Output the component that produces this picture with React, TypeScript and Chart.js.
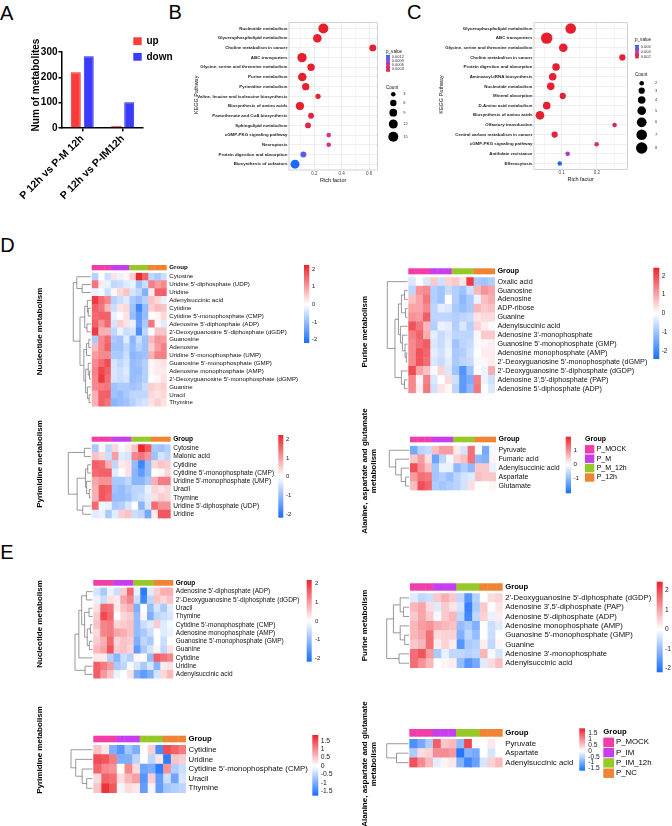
import React, { useEffect, useRef } from 'react';
import { Chart, registerables } from 'chart.js';

Chart.register(...registerables);

const FONT = '"Liberation Sans", Arial, Helvetica, sans-serif';
Chart.defaults.font.family = FONT;
Chart.defaults.color = '#000';

/* ---------------- A: number of differential metabolites ---------------- */
const aComparisons = ['P 12h vs P-M 12h', 'P 12h vs P-IM12h'];
const aSeriesNames = ['up', 'down'];
const aUp = [220, 8];
const aDown = [283, 102];
const aYTicks = [0, 100, 200, 300];

/* ---------------- B: KEGG enrichment (P 12h vs P-M 12h) ---------------- */
const bPathways = [
  'Nucleotide metabolism',
  'Glycerophospholipid metabolism',
  'Choline metabolism in cancer',
  'ABC transporters',
  'Glycine, serine and threonine metabolism',
  'Purine metabolism',
  'Pyrimidine metabolism',
  'Valine, leucine and isoleucine biosynthesis',
  'Biosynthesis of amino acids',
  'Pantothenate and CoA biosynthesis',
  'Sphingolipid metabolism',
  'cGMP-PKG signaling pathway',
  'Necroptosis',
  'Protein digestion and absorption',
  'Biosynthesis of cofactors',
];
const bRichFactor = [0.266, 0.222, 0.627, 0.11, 0.176, 0.112, 0.137, 0.227, 0.095, 0.176, 0.154, 0.305, 0.305, 0.12, 0.059];
const bCount = [15, 11, 7, 13, 8, 11, 8, 4, 10, 5, 5, 3, 3, 5, 12];
const bPValue = [0.00013, 0.00015, 0.00016, 0.00014, 0.00016, 0.00015, 0.00017, 0.0002, 0.00014, 0.00022, 0.00028, 0.0006, 0.0006, 0.00115, 0.00135];
const bPRange = [0.00013, 0.00135];
const bPTicks = [0.0012, 0.0009, 0.0006, 0.0003];
const bCountTicks = [3, 6, 9, 12, 15];
const bRichGrid = [0.1, 0.2, 0.3, 0.4, 0.5, 0.6];
const bRichLabels = [0.2, 0.4, 0.6];

/* ---------------- C: KEGG enrichment (P 12h vs P-IM 12h) ---------------- */
const cPathways = [
  'Glycerophospholipid metabolism',
  'ABC transporters',
  'Glycine, serine and threonine metabolism',
  'Choline metabolism in cancer',
  'Protein digestion and absorption',
  'Aminoacyl-tRNA biosynthesis',
  'Nucleotide metabolism',
  'Mineral absorption',
  'D-Amino acid metabolism',
  'Biosynthesis of amino acids',
  'Olfactory transduction',
  'Central carbon metabolism in cancer',
  'cGMP-PKG signaling pathway',
  'Antifolate resistance',
  'Efferocytosis',
];
const cRichFactor = [0.1255, 0.0575, 0.1045, 0.272, 0.084, 0.0745, 0.069, 0.103, 0.0575, 0.0385, 0.25, 0.08, 0.199, 0.117, 0.0945];
const cCount = [7, 8, 5, 3, 4, 4, 4, 3, 4, 5, 2, 3, 2, 2, 2];
const cPValue = [0.0015, 0.0014, 0.0016, 0.0017, 0.0016, 0.0016, 0.0016, 0.0017, 0.0016, 0.0015, 0.0022, 0.0018, 0.0028, 0.0045, 0.0068];
const cPRange = [0.0014, 0.0068];
const cPTicks = [0.006, 0.004, 0.002];
const cCountTicks = [2, 3, 4, 5, 6, 7, 8];
const cRichGrid = [0.05, 0.1, 0.15, 0.2, 0.25];
const cRichLabels = [0.1, 0.2];

/* ---------------- D / E: heatmaps ---------------- */
const groupNamesD = ['P_MOCK', 'P_M', 'P_M_12h', 'P_12h'];
const groupNamesE = ['P_MOCK', 'P_IM', 'P_IM_12h', 'P_NC'];
const columnGroup = [0, 0, 0, 1, 1, 1, 2, 2, 2, 3, 3, 3];

const dNucRows = [
  'Cytosine', "Uridine 5'-diphosphate (UDP)", 'Uridine', 'Adenylsuccinic acid', 'Cytidine',
  "Cytidine 5'-monophosphate (CMP)", "Adenosine 5'-diphosphate (ADP)", "2'-Deoxyguanosine 5'-diphosphate (dGDP)",
  'Guanosine', 'Adenosine', "Uridine 5'-monophosphate (UMP)", "Guanosine 5'-monophosphate (GMP)",
  'Adenosine monophosphate (AMP)', "2'-Deoxyguanosine 5'-monophosphate (dGMP)", 'Guanine', 'Uracil', 'Thymine',
];
const dNucValues = [
  [-0.7, 0.0, -0.5, 0.3, -0.2, 0.1, 0.5, 2.2, 1.6, -0.6, -0.8, -0.5],
  [1.4, 0.2, -0.2, -0.6, -0.5, -0.3, -0.2, -0.9, -0.5, 1.3, 1.0, 1.2],
  [-0.2, -0.1, -0.5, 0.1, 0.4, 0.6, -0.4, -0.6, -1.2, 0.2, 1.6, 1.6],
  [2.0, 1.5, 1.2, -0.7, -0.5, -0.3, -0.8, -1.0, -0.7, 0.6, 0.4, -0.2],
  [1.6, 1.4, 0.7, -0.5, 0.3, 0.4, -0.9, -1.8, -1.0, 0.5, 0.7, 0.6],
  [1.5, 1.6, 1.6, -0.2, 0.0, 0.3, -1.0, -1.5, -1.0, 0.0, 0.1, 0.4],
  [1.6, 1.1, 1.5, -0.4, 0.5, 0.3, -0.2, -1.4, -0.8, 1.4, 0.1, -0.3],
  [2.0, 0.8, 0.8, -0.6, -0.2, -0.5, -0.4, -1.7, -0.6, 0.0, 0.6, 0.6],
  [-0.8, 1.2, 1.5, -0.8, -0.9, -0.3, -1.1, -0.5, -0.9, 0.7, 1.1, 1.0],
  [0.7, 1.2, 1.6, -0.9, -0.9, -0.6, -1.0, -0.7, -0.9, 0.5, 1.0, 1.3],
  [1.0, 1.2, 1.2, -0.8, -0.8, -0.5, -1.1, -1.0, -0.9, 0.8, 1.3, 1.3],
  [1.2, 1.5, 1.8, -0.4, -0.6, -0.4, -1.0, -0.9, -0.7, 0.1, 0.2, 0.3],
  [1.3, 1.9, 1.6, -0.4, -0.5, -0.3, -1.0, -1.0, -0.7, 0.1, 0.2, 0.2],
  [1.2, 2.0, 1.5, -0.4, -0.5, -0.4, -1.0, -0.9, -0.7, 0.0, 0.1, 0.3],
  [1.2, 1.3, 1.4, -0.9, -0.8, -0.8, -0.9, -0.8, -0.5, 0.5, 0.4, 0.5],
  [0.8, 1.6, 1.6, -0.9, -1.0, -0.8, -0.6, -0.6, -0.6, 0.4, 0.3, 0.4],
  [0.8, 1.6, 1.4, -1.1, -1.0, -0.9, -0.7, -0.5, -0.4, 0.3, 0.5, 0.3],
];
// merge tree: [height, left, right]; leaves are row indices
const dNucTree = [1, [0.8, 0, [0.5, 1, 2]], [0.62, [0.35, [0.2, 3, [0.15, 4, 5]], [0.22, 6, 7]], [0.4, [0.25, [0.12, 8, 9], 10], [0.3, [0.15, 11, [0.08, 12, 13]], [0.2, 14, [0.1, 15, 16]]]]]];

const dPurRows = [
  'Oxalic acid', 'Guanosine', 'Adenosine', 'ADP-ribose', 'Guanine', 'Adenylsuccinic acid',
  "Adenosine 3'-monophosphate", "Guanosine 5'-monophosphate (GMP)", 'Adenosine monophosphate (AMP)',
  "2'-Deoxyguanosine 5'-monophosphate (dGMP)", "2'-Deoxyguanosine 5'-diphosphate (dGDP)",
  "Adenosine 3',5'-diphosphate (PAP)", "Adenosine 5'-diphosphate (ADP)",
];
const dPurValues = [
  [-0.4, 0.0, -0.4, 0.6, -0.5, 0.5, 0.6, 0.3, 2.2, -0.9, -1.0, -0.8],
  [-0.7, 1.2, 1.3, -0.8, -1.0, -0.6, -0.8, -1.0, -0.5, 0.8, 1.2, 1.0],
  [0.7, 1.0, 1.5, -0.8, -1.0, 0.0, -0.8, -1.2, -0.9, -0.2, 0.7, 0.9],
  [1.0, 1.0, 1.3, -0.7, -0.3, -0.4, -0.9, -1.1, -0.9, 0.8, 0.6, 0.7],
  [1.2, 1.1, 1.8, -0.7, -0.7, -0.7, -0.8, -0.7, -0.6, 0.3, 0.4, 0.4],
  [1.9, 1.5, 0.8, -0.8, -0.2, -0.3, -0.8, -0.4, -0.8, 0.5, 0.2, -0.1],
  [1.4, 1.7, 0.9, -0.3, -0.6, -0.4, -0.7, -0.7, -0.7, 0.1, 0.6, 0.6],
  [1.3, 1.6, 1.8, -0.4, -0.6, -0.3, -1.0, -0.7, -0.6, -0.1, 0.1, 0.2],
  [1.3, 1.9, 1.7, -0.3, -0.5, -0.2, -0.9, -0.8, -0.5, 0.0, 0.2, 0.2],
  [1.3, 1.9, 1.6, -0.4, -0.6, -0.3, -0.9, -0.7, -0.6, -0.1, 0.1, 0.2],
  [2.0, 1.0, 0.7, -0.1, 0.5, -0.4, -1.0, -1.8, -1.0, 0.0, -0.2, 0.9],
  [1.3, 0.1, 1.4, -0.4, 0.0, 0.4, -0.5, -1.7, -1.4, 1.4, -0.2, -0.5],
  [1.3, 0.2, 1.5, -0.5, 0.3, 0.1, -0.7, -1.7, -1.2, 1.5, 0.0, -0.4],
];
const dPurTree = [1, 0, [0.62, [0.45, [0.3, [0.15, 1, 2], [0.1, 3, 4]], [0.35, 5, [0.25, 6, [0.12, 7, [0.06, 8, 9]]]]], [0.3, 10, [0.15, 11, 12]]]];

const dPyrRows = [
  'Cytosine', 'Malonic acid', 'Cytidine', "Cytidine 5'-monophosphate (CMP)", "Uridine 5'-monophosphate (UMP)",
  'Uracil', 'Thymine', "Uridine 5'-diphosphate (UDP)", 'Uridine',
];
const dPyrValues = [
  [-0.8, 0.1, -0.6, 0.4, -0.1, 0.2, 0.6, 2.2, 1.7, -0.8, -0.9, -0.7],
  [0.6, 0.4, -0.5, 1.0, -0.3, -0.4, 1.2, 1.4, 1.1, -0.9, -0.4, -0.6],
  [1.6, 1.5, 0.8, -0.6, 0.2, 0.3, -1.0, -1.8, -1.0, 0.4, 0.6, 0.5],
  [1.5, 1.6, 1.6, -0.3, 0.0, 0.3, -1.1, -1.5, -1.0, 0.0, 0.1, 0.4],
  [0.9, 1.1, 1.1, -0.8, -0.8, -0.6, -1.1, -1.1, -0.8, 0.8, 1.3, 1.3],
  [0.8, 1.7, 1.6, -0.9, -1.0, -0.8, -0.6, -0.6, -0.2, 0.4, 0.3, 0.4],
  [0.8, 1.7, 1.5, -1.0, -1.0, -0.9, -0.6, -0.5, -0.3, 0.3, 0.5, 0.4],
  [1.5, -0.1, -0.2, -0.8, -0.7, -0.4, 0.0, -1.1, -0.4, 1.5, 1.1, 1.1],
  [-0.3, -0.2, -0.8, -0.3, 0.5, 0.6, -0.5, -0.6, -1.3, 0.2, 1.7, 1.7],
];
const dPyrTree = [1, [0.29, 0, 1], [0.61, [0.24, [0.14, 2, 3], [0.19, 4, [0.07, 5, 6]]], [0.36, 7, 8]]];

const dAlaRows = ['Pyruvate', 'Fumaric acid', 'Adenylsuccinic acid', 'Aspartate', 'Glutamate'];
const dAlaValues = [
  [-1.2, -0.6, -0.5, 0.6, 0.9, 0.9, 0.2, -0.4, 1.3, 0.0, -1.2, -0.1],
  [0.5, 0.9, 0.3, -1.3, -0.6, -0.1, 0.4, 0.6, 1.3, -1.0, -1.1, 0.1],
  [1.6, 1.0, 0.6, -0.8, -0.2, -0.2, -1.0, -0.7, -1.0, 0.5, 0.5, -0.2],
  [0.9, 1.3, 1.2, -0.8, -0.7, -0.9, -0.6, -0.4, -0.3, 0.6, 0.5, 0.5],
  [0.6, 1.6, 1.4, -0.7, -0.8, -0.7, -0.6, -0.4, 0.3, 0.0, 0.0, 0.1],
];
const dAlaTree = [1, 0, [0.68, 1, [0.4, 2, [0.18, 3, 4]]]];

const eNucRows = [
  "Adenosine 5'-diphosphate (ADP)", "2'-Deoxyguanosine 5'-diphosphate (dGDP)", 'Uracil', 'Thymine',
  "Cytidine 5'-monophosphate (CMP)", 'Adenosine monophosphate (AMP)', "Guanosine 5'-monophosphate (GMP)",
  'Guanine', 'Cytidine', 'Uridine', 'Adenylsuccinic acid',
];
const eNucValues = [
  [-0.4, -0.8, -0.2, -0.5, 0.5, 1.5, -0.2, -2.0, -0.3, 0.5, 0.8, 0.8],
  [-0.2, -0.5, 0.3, 0.2, 0.9, 1.2, -0.5, -1.8, -0.6, 0.6, 0.4, 0.6],
  [0.3, 1.5, 1.4, 0.2, 0.6, 0.8, -1.2, 0.0, -1.0, -0.4, -0.8, -0.3],
  [0.5, 1.8, 1.5, 0.0, 0.4, 0.5, -1.0, 0.1, -1.2, -0.6, -0.5, -0.4],
  [0.6, 1.2, 1.3, 0.4, 0.5, 0.6, -1.0, -0.5, -0.3, 0.5, -0.3, -0.1],
  [0.4, 1.2, 1.3, 0.9, 0.8, 0.6, -1.0, -0.8, -0.5, 0.0, -0.3, -0.2],
  [0.5, 0.8, 1.5, 0.4, 0.6, 0.5, -1.2, -0.6, -0.8, 0.0, -0.5, 0.0],
  [0.7, 0.9, 1.7, 0.5, 0.6, 0.4, -1.5, -0.8, -0.4, 0.1, -0.6, 0.3],
  [0.2, 0.2, -0.7, -1.1, -0.5, -0.7, 0.1, 0.0, -1.0, 1.6, 1.4, 1.2],
  [1.6, 1.3, 1.0, -0.8, -0.6, -0.1, -0.4, -0.8, -0.4, -1.1, 0.2, 0.3],
  [1.6, 1.0, 0.6, -0.2, 0.0, 0.3, -1.2, -1.5, -1.2, -0.4, 0.4, 0.7],
];
const eNucTree = [1, [0.78, [0.62, [0.35, 0, 1], [0.45, [0.2, 2, 3], [0.3, [0.12, 4, 5], [0.18, 6, 7]]]], 8], [0.42, 9, 10]];

const ePurRows = [
  "2'-Deoxyguanosine 5'-diphosphate (dGDP)", "Adenosine 3',5'-diphosphate (PAP)", "Adenosine 5'-diphosphate (ADP)",
  'Adenosine monophosphate (AMP)', "Guanosine 5'-monophosphate (GMP)", 'Guanine',
  "Adenosine 3'-monophosphate", 'Adenylsuccinic acid',
];
const ePurValues = [
  [-0.3, -0.6, -0.5, 0.6, 0.9, 0.6, -0.6, -1.6, -0.7, 0.0, 0.4, 0.5],
  [0.8, 1.0, 0.4, -0.3, 0.6, 0.3, -0.4, -1.9, -0.8, 0.6, 0.0, 0.3],
  [0.6, 1.0, 0.6, -0.1, 0.6, 0.8, -0.6, -1.8, -0.6, 0.5, -0.2, 0.2],
  [0.8, 1.1, 1.2, 0.9, 0.8, 0.7, -1.0, -0.8, -1.2, 0.0, -0.5, -0.3],
  [0.8, 1.0, 1.6, 0.4, 0.5, 0.5, -1.2, -0.6, -1.0, 0.0, -0.5, 0.0],
  [0.6, 0.8, 1.6, 0.2, 0.5, 0.2, -1.6, -0.8, -0.7, 0.2, -0.6, 0.1],
  [1.6, 1.9, 1.1, -0.8, -0.2, -0.6, -0.6, -0.7, -0.6, 0.8, -0.1, -0.4],
  [1.6, 1.2, 0.8, 0.0, 0.1, 0.2, -1.0, -1.6, -1.3, -0.3, 0.4, 0.7],
];
const ePurTree = [1, [0.7, [0.4, 0, [0.25, 1, 2]], [0.4, 3, [0.2, 4, 5]]], [0.45, 6, 7]];

const ePyrRows = ['Cytidine', 'Uridine', "Cytidine 5'-monophosphate (CMP)", 'Uracil', 'Thymine'];
const ePyrValues = [
  [0.5, 0.2, -1.0, -1.3, -0.7, -1.0, 0.0, 0.4, -1.4, 1.5, 1.3, 1.1],
  [1.5, 1.4, 1.1, -1.0, -1.0, -0.5, 0.0, -0.5, 0.2, -1.6, 0.5, 0.4],
  [1.3, 1.0, 0.9, 0.0, 1.0, 0.3, -1.1, -1.0, -1.6, 0.9, -0.6, -0.4],
  [0.3, 1.3, 1.2, 0.3, 0.6, 0.8, -1.3, 0.4, -1.2, -0.4, -1.1, -0.3],
  [0.5, 1.7, 1.4, -0.1, 0.3, 0.2, -1.2, 0.1, -1.2, -0.7, -0.6, -0.5],
];
const ePyrTree = [1, 0, [0.78, 1, [0.48, 2, [0.27, 3, 4]]]];

const eAlaRows = ['Pyruvate', 'Aspartate', 'Adenylsuccinic acid'];
const eAlaValues = [
  [-1.3, -1.0, -0.6, 1.4, 0.5, 0.6, -0.8, 1.6, 0.0, 0.0, 0.2, 0.0],
  [-0.6, 0.3, 0.4, 1.0, 1.0, 0.9, -1.6, -0.9, -1.0, 0.0, -0.3, 0.0],
  [1.5, 1.0, 0.6, -0.2, 0.1, 0.2, -0.9, -1.4, -1.1, -0.3, 0.4, 0.6],
];
const eAlaTree = [1, 0, [0.55, 1, 2]];

/* ---------------- styling ---------------- */
const GROUP_COLORS = ['#F23DA8', '#C83DF0', '#96C828', '#EF8434'];
const HEAT_LOW = [24, 110, 255];
const HEAT_HIGH = [238, 34, 44];
const P_STOPS: [number, number[]][] = [
  [0, [232, 30, 42]],
  [0.4, [206, 54, 146]],
  [0.7, [130, 80, 220]],
  [1, [28, 108, 255]],
];

function rgb(c: number[]) {
  return `rgb(${Math.round(c[0])},${Math.round(c[1])},${Math.round(c[2])})`;
}

function heatColor(v: number, lo: number, hi: number) {
  const end = v >= 0 ? HEAT_HIGH : HEAT_LOW;
  const t = Math.max(0, Math.min(1, v >= 0 ? v / hi : v / lo));
  return rgb(end.map((e) => 255 + (e - 255) * t));
}

function pColor(t: number) {
  const u = Math.max(0, Math.min(1, t));
  for (let i = 1; i < P_STOPS.length; i++) {
    const [t1, c1] = P_STOPS[i];
    const [t0, c0] = P_STOPS[i - 1];
    if (u <= t1) {
      const k = (u - t0) / (t1 - t0);
      return rgb(c0.map((c, j) => c + (c1[j] - c) * k));
    }
  }
  return rgb(P_STOPS[P_STOPS.length - 1][1]);
}

type Box = { x: number; y: number; w: number; h: number };

function ChartCanvas({ box, make }: { box: Box; make: () => any }) {
  const ref = useRef<HTMLCanvasElement | null>(null);
  useEffect(() => {
    const chart = new Chart(ref.current as HTMLCanvasElement, make());
    return () => chart.destroy();
  }, []);
  return (
    <canvas
      ref={ref}
      width={box.w}
      height={box.h}
      style={{ position: 'absolute', left: box.x, top: box.y, width: box.w, height: box.h }}
    />
  );
}

/* ---------------- panel A ---------------- */
const A_BOX: Box = { x: 0, y: 0, w: 175, h: 215 };
const A_COLORS = [
  { fill: '#FF3B3B', line: '#E52A2A' },
  { fill: '#3B3BFF', line: '#2A2AE5' },
];

function barConfig() {
  const axisGrid = { display: true, drawOnChartArea: false, drawTicks: true, tickLength: 3.5, color: '#000', lineWidth: 1.5, offset: false };
  const axisBorder = { display: true, color: '#000', width: 1.5 };
  const legendDecor = {
    id: 'aDecor',
    afterDraw(chart: any) {
      const ctx = chart.ctx;
      ctx.save();
      ctx.fillStyle = '#000';
      ctx.font = `bold 10px ${FONT}`;
      ctx.textAlign = 'center';
      ctx.textBaseline = 'middle';
      ctx.translate(36, 85);
      ctx.rotate(-Math.PI / 2);
      ctx.fillText('Num of metabolites', 0, 0);
      ctx.restore();
      ctx.save();
      chart.data.datasets.forEach((ds: any, i: number) => {
        const cy = 41.2 + i * 15.6;
        ctx.fillStyle = ds.backgroundColor;
        ctx.fillRect(133.3, cy - 3.9, 8.4, 7.8);
        ctx.fillStyle = '#000';
        ctx.font = `bold 10px ${FONT}`;
        ctx.textAlign = 'left';
        ctx.textBaseline = 'middle';
        ctx.fillText(ds.label, 146.5, cy);
      });
      ctx.restore();
    },
  };
  return {
    type: 'bar',
    data: {
      labels: aComparisons,
      datasets: [aUp, aDown].map((d, i) => ({
        label: aSeriesNames[i],
        data: d,
        backgroundColor: A_COLORS[i].fill,
        borderColor: A_COLORS[i].line,
        borderWidth: 1,
        categoryPercentage: 0.64,
        barPercentage: 0.77,
      })),
    },
    options: {
      animation: false,
      responsive: false,
      events: [],
      layout: { padding: { left: 0, top: 52, right: A_BOX.w - 143, bottom: 0 } },
      plugins: { legend: { display: false }, tooltip: { enabled: false } },
      scales: {
        x: {
          grid: axisGrid,
          border: axisBorder,
          ticks: { autoSkip: false, minRotation: 45, maxRotation: 45, padding: 1, color: '#000', font: { size: 10.5, weight: 'bold' } },
          afterFit: (s: any) => { s.height = A_BOX.h - 128; },
        },
        y: {
          min: 0,
          max: 300,
          afterBuildTicks: (s: any) => { s.ticks = aYTicks.map((v) => ({ value: v })); },
          grid: axisGrid,
          border: axisBorder,
          ticks: { padding: 1, color: '#000', font: { size: 10, weight: 'bold' } },
          afterFit: (s: any) => { s.width = 62; },
        },
      },
    },
    plugins: [legendDecor],
  };
}

/* ---------------- panels B, C ---------------- */
type BubbleSpec = {
  box: Box;
  area: { left: number; right: number; top: number; bottom: number };
  names: string[];
  rich: number[];
  count: number[];
  p: number[];
  pRange: number[];
  pTicks: number[];
  countTicks: number[];
  grid: number[];
  labelled: number[];
  xMin: number;
  xMax: number;
  radius: (n: number) => number;
  legend: { x: number; pTitleY: number; barY0: number; barY1: number; countTitleY: number; circleX: number; circleY: number[]; labelX: number };
};

function bubbleConfig(s: BubbleSpec) {
  const tOf = (p: number) => (p - s.pRange[0]) / (s.pRange[1] - s.pRange[0]);
  const decor = {
    id: 'bubbleDecor',
    afterDraw(chart: any) {
      const ctx = chart.ctx;
      const ca = chart.chartArea;
      ctx.save();
      ctx.strokeStyle = '#BDBDBD';
      ctx.lineWidth = 0.7;
      ctx.strokeRect(ca.left, ca.top, ca.right - ca.left, ca.bottom - ca.top);
      ctx.fillStyle = '#111';
      ctx.font = `5.5px ${FONT}`;
      ctx.textAlign = 'center';
      ctx.textBaseline = 'middle';
      ctx.fillText('Rich factor', (ca.left + ca.right) / 2, ca.bottom + 10.3);
      ctx.save();
      ctx.translate(s.area.left - s.box.x - 92.5, (ca.top + ca.bottom) / 2 - 1.5);
      ctx.rotate(-Math.PI / 2);
      ctx.fillText('KEGG Pathway', 0, 0);
      ctx.restore();

      const L = s.legend;
      ctx.textAlign = 'left';
      ctx.font = `4.6px ${FONT}`;
      ctx.fillText('p_value', L.x, L.pTitleY);
      const g = ctx.createLinearGradient(0, L.barY1, 0, L.barY0);
      for (let i = 0; i <= 20; i++) g.addColorStop(i / 20, pColor(i / 20));
      ctx.fillStyle = g;
      ctx.fillRect(L.x, L.barY0, 4, L.barY1 - L.barY0);
      ctx.fillStyle = '#333';
      ctx.font = `4px ${FONT}`;
      s.pTicks.forEach((v) => {
        const y = L.barY1 - tOf(v) * (L.barY1 - L.barY0);
        ctx.strokeStyle = '#fff';
        ctx.lineWidth = 0.4;
        ctx.beginPath();
        ctx.moveTo(L.x, y); ctx.lineTo(L.x + 0.9, y);
        ctx.moveTo(L.x + 3.1, y); ctx.lineTo(L.x + 4, y);
        ctx.stroke();
        ctx.fillText(String(v), L.x + 5.7, y);
      });
      ctx.fillStyle = '#111';
      ctx.font = `4.6px ${FONT}`;
      ctx.fillText('Count', L.x, L.countTitleY);
      s.countTicks.forEach((n, i) => {
        ctx.fillStyle = '#000';
        ctx.beginPath();
        ctx.arc(L.circleX, L.circleY[i], s.radius(n), 0, Math.PI * 2);
        ctx.fill();
        ctx.fillStyle = '#333';
        ctx.font = `4px ${FONT}`;
        ctx.fillText(String(n), L.labelX, L.circleY[i]);
      });
      ctx.restore();
    },
  };
  const left = s.area.left - s.box.x;
  const right = s.area.right - s.box.x;
  return {
    type: 'bubble',
    data: {
      datasets: [
        {
          data: s.names.map((_, i) => ({ x: s.rich[i], y: i, r: s.radius(s.count[i]) })),
          backgroundColor: s.p.map((p) => pColor(tOf(p))),
          borderWidth: 0,
        },
      ],
    },
    options: {
      animation: false,
      responsive: false,
      events: [],
      layout: { padding: { left: 0, top: s.area.top - s.box.y, right: s.box.w - right, bottom: 0 } },
      plugins: { legend: { display: false }, tooltip: { enabled: false } },
      scales: {
        x: {
          type: 'linear',
          min: s.xMin,
          max: s.xMax,
          afterBuildTicks: (sc: any) => { sc.ticks = s.grid.map((v) => ({ value: v })); },
          grid: { color: '#E6E6E6', lineWidth: (c: any) => (s.labelled.includes(c.tick?.value) ? 0.7 : 0.4), drawTicks: false },
          border: { display: false },
          ticks: {
            autoSkip: false,
            maxRotation: 0,
            padding: 1,
            color: '#4D4D4D',
            font: { size: 4.6 },
            callback: (v: number) => (s.labelled.includes(v) ? String(v) : ''),
          },
          afterFit: (sc: any) => { sc.height = s.box.h - (s.area.bottom - s.box.y); },
        },
        y: {
          type: 'linear',
          reverse: true,
          min: -0.6,
          max: s.names.length - 0.4,
          afterBuildTicks: (sc: any) => { sc.ticks = s.names.map((_, i) => ({ value: i })); },
          grid: { color: '#E6E6E6', lineWidth: 0.7, drawTicks: false },
          border: { display: false },
          ticks: {
            autoSkip: false,
            padding: 1.6,
            color: '#1A1A1A',
            font: { size: 4.4, weight: 'bold' },
            callback: (_v: number, i: number) => s.names[i],
          },
          afterFit: (sc: any) => { sc.width = left; },
        },
      },
    },
    plugins: [decor],
  };
}

const B_SPEC: BubbleSpec = {
  box: { x: 170, y: 0, w: 250, h: 200 },
  area: { left: 289, right: 377.3, top: 22.7, bottom: 170 },
  names: bPathways,
  rich: bRichFactor,
  count: bCount,
  p: bPValue,
  pRange: bPRange,
  pTicks: bPTicks,
  countTicks: bCountTicks,
  grid: bRichGrid,
  labelled: bRichLabels,
  xMin: 0.015,
  xMax: 0.66,
  radius: (n) => Math.sqrt(0.4 + 1.64 * n),
  legend: { x: 216, pTitleY: 51.7, barY0: 55, barY1: 71.7, countTitleY: 87.3, circleX: 223.3, circleY: [94.3, 103, 112.7, 124, 136.7], labelX: 233.3 },
};

const C_SPEC: BubbleSpec = {
  box: { x: 420, y: 0, w: 252, h: 200 },
  area: { left: 534, right: 627.3, top: 22.7, bottom: 169.3 },
  names: cPathways,
  rich: cRichFactor,
  count: cCount,
  p: cPValue,
  pRange: cPRange,
  pTicks: cPTicks,
  countTicks: cCountTicks,
  grid: cRichGrid,
  labelled: cRichLabels,
  xMin: 0.0215,
  xMax: 0.286,
  radius: (n) => Math.sqrt(Math.max(1, -3.8 + 4.53 * n)),
  legend: { x: 215, pTitleY: 39.3, barY0: 45, barY1: 58.3, countTitleY: 75, circleX: 221.7, circleY: [83.3, 90.7, 100, 110.7, 122.3, 134.7, 148], labelX: 235 },
};

/* ---------------- heatmaps ---------------- */
type HeatSpec = {
  box: Box;
  cells: { x0: number; x1: number; y0: number; y1: number };
  font: number;
  group: number[];
  rootX: number;
  cbar: { x0: number; x1: number; y0: number; y1: number; max: number; min: number; ticks: number[]; labelX: number; font: number };
  title: { lines: string[]; xs: number[]; y: number };
  legend?: { x: number; titleY: number; y0: number; step: number; w: number; h: number; textX: number };
};

function heatmapConfig(spec: HeatSpec, rows: string[], values: number[][], tree: any, groups: string[]) {
  const { box, cells, cbar } = spec;
  const x0 = cells.x0 - box.x;
  const x1 = cells.x1 - box.x;
  const y0 = cells.y0 - box.y;
  const y1 = cells.y1 - box.y;
  const nCol = columnGroup.length;

  const decor = {
    id: 'heatDecor',
    afterDraw(chart: any) {
      const ctx = chart.ctx;
      const xs = chart.scales.x;
      const ys = chart.scales.y;
      const ox = box.x;
      const oy = box.y;
      ctx.save();

      // column annotation
      const gy = spec.group[0] - oy;
      const gh = spec.group[1] - spec.group[0];
      columnGroup.forEach((g, c) => {
        const a = xs.getPixelForValue(c);
        const b = xs.getPixelForValue(c + 1);
        ctx.fillStyle = GROUP_COLORS[g];
        ctx.fillRect(a, gy, b - a + (c < nCol - 1 ? 0.4 : 0), gh);
      });
      ctx.fillStyle = '#000';
      ctx.font = `bold ${spec.font}px ${FONT}`;
      ctx.textAlign = 'left';
      ctx.textBaseline = 'middle';
      ctx.fillText('Group', chart.chartArea.right + 2.5, gy + gh / 2);

      // row dendrogram
      const leafX = chart.chartArea.left - 0.8;
      const rootX = spec.rootX - ox;
      ctx.beginPath();
      const walk = (node: any): { x: number; y: number } => {
        if (typeof node === 'number') return { x: leafX, y: ys.getPixelForValue(node) };
        const [h, a, b] = node;
        const A = walk(a);
        const B = walk(b);
        const x = leafX - h * (leafX - rootX);
        ctx.moveTo(A.x, A.y);
        ctx.lineTo(x, A.y);
        ctx.lineTo(x, B.y);
        ctx.lineTo(B.x, B.y);
        return { x, y: (A.y + B.y) / 2 };
      };
      walk(tree);
      ctx.strokeStyle = '#6E6E6E';
      ctx.lineWidth = 0.7;
      ctx.stroke();

      // colour key
      const cy0 = cbar.y0 - oy;
      const cy1 = cbar.y1 - oy;
      const grad = ctx.createLinearGradient(0, cy0, 0, cy1);
      for (let i = 0; i <= 40; i++) {
        const v = cbar.max - ((cbar.max - cbar.min) * i) / 40;
        grad.addColorStop(i / 40, heatColor(v, cbar.min, cbar.max));
      }
      ctx.fillStyle = grad;
      ctx.fillRect(cbar.x0 - ox, cy0, cbar.x1 - cbar.x0, cy1 - cy0);
      ctx.fillStyle = '#222';
      ctx.font = `${cbar.font}px ${FONT}`;
      ctx.textAlign = 'left';
      cbar.ticks.forEach((v) => {
        const y = cy0 + ((cbar.max - v) / (cbar.max - cbar.min)) * (cy1 - cy0);
        ctx.fillText(String(v), cbar.labelX - ox, y);
      });

      // row-set title
      ctx.fillStyle = '#000';
      ctx.font = `bold 8px ${FONT}`;
      ctx.textAlign = 'center';
      spec.title.lines.forEach((line, i) => {
        ctx.save();
        ctx.translate(spec.title.xs[i] - ox, spec.title.y - oy);
        ctx.rotate(-Math.PI / 2);
        ctx.fillText(line, 0, 0);
        ctx.restore();
      });

      // group legend
      if (spec.legend) {
        const L = spec.legend;
        ctx.textAlign = 'left';
        ctx.font = `bold ${spec.font}px ${FONT}`;
        ctx.fillText('Group', L.x - ox, L.titleY - oy);
        groups.forEach((name, i) => {
          const cy = L.y0 + i * L.step - oy;
          ctx.fillStyle = GROUP_COLORS[i];
          ctx.fillRect(L.x - ox, cy - L.h / 2, L.w, L.h);
          ctx.fillStyle = '#000';
          ctx.font = `${spec.font}px ${FONT}`;
          ctx.fillText(name, L.textX - ox, cy);
        });
      }
      ctx.restore();
    },
  };

  return {
    type: 'bar',
    data: {
      labels: rows,
      datasets: columnGroup.map((_, c) => ({
        label: `sample ${c + 1}`,
        data: rows.map(() => 1),
        backgroundColor: values.map((row) => heatColor(row[c], cbar.min, cbar.max)),
        borderWidth: 0,
        barPercentage: 1,
        categoryPercentage: 1,
      })),
    },
    options: {
      indexAxis: 'y',
      animation: false,
      responsive: false,
      events: [],
      layout: { padding: { left: x0, top: y0, right: 0, bottom: box.h - y1 } },
      plugins: { legend: { display: false }, tooltip: { enabled: false } },
      scales: {
        x: { display: false, stacked: true, min: 0, max: nCol },
        y: {
          position: 'right',
          stacked: true,
          offset: true,
          grid: { display: false, drawTicks: false },
          border: { display: false },
          ticks: { autoSkip: false, padding: 2.5, color: '#111', font: { size: spec.font } },
          afterFit: (s: any) => { s.width = box.w - x1; },
        },
      },
    },
    plugins: [decor],
  };
}

const D_NUC: HeatSpec = {
  box: { x: 30, y: 258, w: 310, h: 155 },
  cells: { x0: 91.7, x1: 166.7, y0: 272.8, y1: 406.6 },
  font: 6.2,
  group: [265, 270.3],
  rootX: 73.3,
  cbar: { x0: 304, x1: 309.3, y0: 265, y1: 343, max: 2.24, min: -2.19, ticks: [2, 1, 0, -1, -2], labelX: 312, font: 5.8 },
  title: { lines: ['Nucleotide metabolism'], xs: [40], y: 331.5 },
};
const D_PUR: HeatSpec = {
  box: { x: 355, y: 260, w: 317, h: 140 },
  cells: { x0: 408.3, x1: 495, y0: 277.2, y1: 393.5 },
  font: 7.2,
  group: [268.3, 274.3],
  rootX: 387.3,
  cbar: { x0: 653.3, x1: 659.3, y0: 267.7, y1: 359, max: 2.44, min: -2.44, ticks: [2, 1, 0, -1, -2], labelX: 661.7, font: 6.4 },
  title: { lines: ['Purine metabolism'], xs: [364.5], y: 331.7 },
};
const D_PYR: HeatSpec = {
  box: { x: 30, y: 415, w: 310, h: 110 },
  cells: { x0: 91.7, x1: 170.7, y0: 444.2, y1: 518.4 },
  font: 6.6,
  group: [436.7, 441.7],
  rootX: 68.3,
  cbar: { x0: 278.3, x1: 283.3, y0: 435, y1: 517.7, max: 2.23, min: -2.18, ticks: [2, 1, 0, -1, -2], labelX: 286, font: 6 },
  title: { lines: ['Pyrimidine metabolism'], xs: [40], y: 464 },
};
const D_ALA: HeatSpec = {
  box: { x: 355, y: 400, w: 317, h: 140 },
  cells: { x0: 410, x1: 496, y0: 445.8, y1: 490.5 },
  font: 7.0,
  group: [436.7, 442.3],
  rootX: 389.3,
  cbar: { x0: 565.7, x1: 571, y0: 436.7, y1: 493.3, max: 2.0, min: -2.04, ticks: [1, 0, -1], labelX: 573.5, font: 6.2 },
  title: { lines: ['Alanine, aspartate and glutamate', 'metabolism'], xs: [365, 374], y: 471 },
  legend: { x: 585, titleY: 439.5, y0: 449.3, step: 9.4, w: 9.3, h: 8.4, textX: 596.7 },
};
const E_NUC: HeatSpec = {
  box: { x: 30, y: 570, w: 310, h: 115 },
  cells: { x0: 93.3, x1: 173.3, y0: 587.5, y1: 679.8 },
  font: 6.5,
  group: [580, 585.7],
  rootX: 75,
  cbar: { x0: 306.7, x1: 311.7, y0: 580, y1: 661.7, max: 2.18, min: -2.18, ticks: [2, 1, 0, -1, -2], labelX: 315, font: 6 },
  title: { lines: ['Nucleotide metabolism'], xs: [40], y: 624 },
};
const E_PUR: HeatSpec = {
  box: { x: 355, y: 575, w: 317, h: 100 },
  cells: { x0: 410, x1: 502.7, y0: 593.2, y1: 670.1 },
  font: 7.7,
  group: [583.3, 590.7],
  rootX: 386.7,
  cbar: { x0: 656.7, x1: 662.7, y0: 581.7, y1: 672.3, max: 2.45, min: -2.2, ticks: [2, 1, 0, -1, -2], labelX: 665, font: 6.6 },
  title: { lines: ['Purine metabolism'], xs: [364.5], y: 625.5 },
};
const E_PYR: HeatSpec = {
  box: { x: 30, y: 700, w: 315, h: 105 },
  cells: { x0: 93.3, x1: 186, y0: 744.9, y1: 793.1 },
  font: 7.8,
  group: [735.7, 742.3],
  rootX: 71,
  cbar: { x0: 312.3, x1: 318.3, y0: 735, y1: 795.7, max: 1.84, min: -1.78, ticks: [1.5, 1, 0.5, 0, -0.5, -1, -1.5], labelX: 320.7, font: 6.8 },
  title: { lines: ['Pyrimidine metabolism'], xs: [40], y: 750 },
};
const E_ALA: HeatSpec = {
  box: { x: 355, y: 695, w: 317, h: 131 },
  cells: { x0: 409.3, x1: 502.7, y0: 739, y1: 767.4 },
  font: 7.8,
  group: [729, 736.7],
  rootX: 386.7,
  cbar: { x0: 579.3, x1: 585, y0: 728.3, y1: 770.7, max: 1.93, min: -1.7, ticks: [1.5, 1, 0.5, 0, -0.5, -1, -1.5], labelX: 588.3, font: 6.6 },
  title: { lines: ['Alanine, aspartate and glutamate', 'metabolism'], xs: [364.5, 373.5], y: 764 },
  legend: { x: 603.3, titleY: 732, y0: 742.3, step: 10.3, w: 10.7, h: 9.4, textX: 616 },
};

const HEATMAPS: [HeatSpec, string[], number[][], any, string[]][] = [
  [D_NUC, dNucRows, dNucValues, dNucTree, groupNamesD],
  [D_PUR, dPurRows, dPurValues, dPurTree, groupNamesD],
  [D_PYR, dPyrRows, dPyrValues, dPyrTree, groupNamesD],
  [D_ALA, dAlaRows, dAlaValues, dAlaTree, groupNamesD],
  [E_NUC, eNucRows, eNucValues, eNucTree, groupNamesE],
  [E_PUR, ePurRows, ePurValues, ePurTree, groupNamesE],
  [E_PYR, ePyrRows, ePyrValues, ePyrTree, groupNamesE],
  [E_ALA, eAlaRows, eAlaValues, eAlaTree, groupNamesE],
];

const PANEL_LETTERS = [
  { text: 'A', x: 0, baseline: 19.8 },
  { text: 'B', x: 168.5, baseline: 18.4 },
  { text: 'C', x: 407, baseline: 18.4 },
  { text: 'D', x: 0.2, baseline: 251.5 },
  { text: 'E', x: 0.2, baseline: 559 },
];

export default function App() {
  return (
    <div style={{ position: 'absolute', left: 0, top: 0, width: 672, height: 826, background: '#fff', overflow: 'hidden' }}>
      {PANEL_LETTERS.map((p) => (
        <div
          key={p.text}
          style={{
            position: 'absolute',
            left: p.x,
            top: p.baseline - 16.9,
            fontFamily: FONT,
            fontSize: 20,
            lineHeight: '20px',
            color: '#000',
          }}
        >
          {p.text}
        </div>
      ))}
      <ChartCanvas box={A_BOX} make={barConfig} />
      <ChartCanvas box={B_SPEC.box} make={() => bubbleConfig(B_SPEC)} />
      <ChartCanvas box={C_SPEC.box} make={() => bubbleConfig(C_SPEC)} />
      {HEATMAPS.map(([spec, rows, values, tree, groups], i) => (
        <ChartCanvas key={i} box={spec.box} make={() => heatmapConfig(spec, rows, values, tree, groups)} />
      ))}
    </div>
  );
}
